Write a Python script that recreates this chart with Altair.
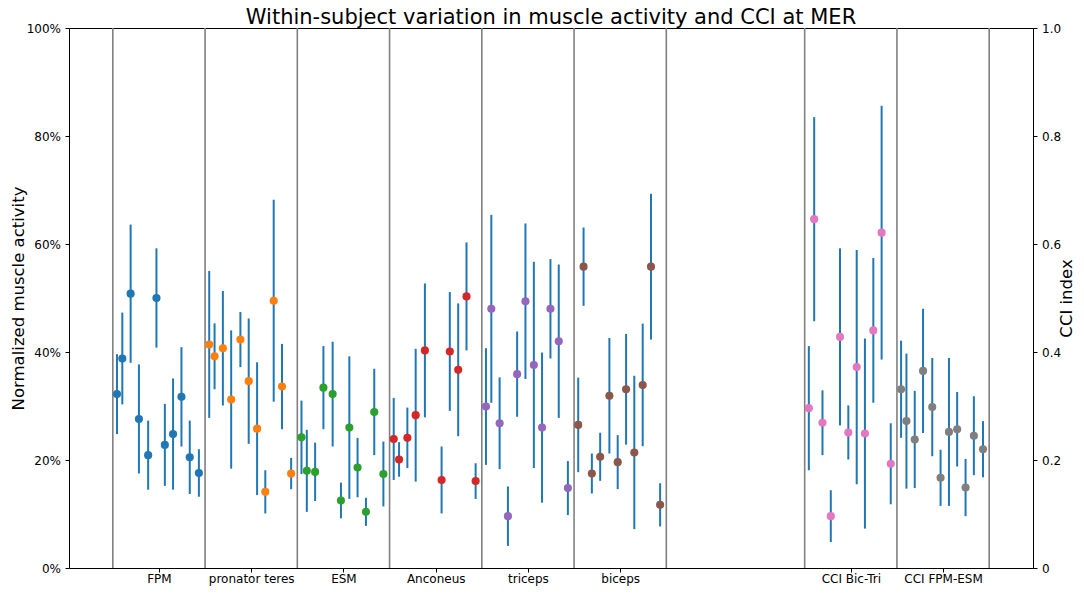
import altair as alt
import pandas as pd

# ---------------- data ----------------
GROUPS = ["FPM", "pronator teres", "ESM", "Anconeus", "triceps", "biceps",
          "CCI Bic-Tri", "CCI FPM-ESM"]
CENTERS = [0, 1, 2, 3, 4, 5, 7.5, 8.5]
COLORS = ["#1f77b4", "#ff7f0e", "#2ca02c", "#d62728", "#9467bd", "#8c564b",
          "#e377c2", "#7f7f7f"]

# normalized muscle activity (%), mean and SD per subject (None = missing)
fpm_mean = [32.2, 38.8, 50.8, 27.6, 20.9, 50.0, 22.8, 24.8, 31.7, 20.5, 17.6]
fpm_sd = [7.4, 8.5, 12.8, 10.1, 6.4, 9.2, 7.6, 10.3, 9.2, 6.8, 4.4]
pt_mean = [41.4, 39.2, 40.7, 31.2, 42.3, 34.6, 25.8, 14.1, 49.5, 33.6, 17.5]
pt_sd = [13.6, 6.1, 10.6, 12.8, 5.1, 11.6, 12.3, 4.0, 18.7, 7.9, 2.9]
esm_mean = [24.2, 18.0, 17.8, 33.4, 32.2, 12.5, 26.0, 18.6, 10.4, 28.9, 17.4]
esm_sd = [6.8, 7.6, 5.4, 7.7, 9.7, 3.3, 13.2, 5.5, 2.6, 8.0, 6.0]
anc_mean = [23.9, 20.1, 24.1, 28.3, 40.3, None, 16.3, 40.1, 36.7, 50.3, 16.1]
anc_sd = [7.6, 3.2, 5.6, 12.3, 12.4, None, 6.2, 11.0, 12.3, 10.0, 3.3]
tri_mean = [29.9, 48.0, 26.8, 9.6, 35.9, 49.4, 37.6, 26.0, 48.0, 42.0, 14.8]
tri_sd = [10.8, 17.4, 8.5, 5.5, 7.9, 14.4, 19.1, 13.9, 9.2, 14.2, 5.0]
bic_mean = [26.5, 55.8, 17.5, 20.6, 31.9, 19.6, 33.1, 21.4, 33.9, 55.8, 11.7]
bic_sd = [8.75, 7.25, 3.7, 4.45, 10.7, 5.0, 10.25, 14.2, 11.35, 13.5, 4.0]

# CCI index, mean and SD per subject
cci_bt_mean = [0.296, 0.646, 0.269, 0.096, 0.428, 0.251, 0.372, 0.249, 0.440, 0.621, 0.193]
cci_bt_sd = [0.115, 0.189, 0.060, 0.048, 0.164, 0.050, 0.217, 0.176, 0.134, 0.235, 0.075]
cci_fe_mean = [0.331, 0.272, 0.238, 0.365, 0.298, 0.167, 0.252, 0.257, 0.149, 0.245, 0.220]
cci_fe_sd = [0.090, 0.125, 0.090, 0.115, 0.091, 0.052, 0.137, 0.069, 0.053, 0.073, 0.052]

# ---------------- layout helpers ----------------
# horizontal dodge of each subject slot inside a group (in group widths)
SLOT_OFFSETS = [-0.455, -0.397, -0.307, -0.217, -0.117, -0.027,
                0.064, 0.153, 0.244, 0.334, 0.433]

muscle_series = [(fpm_mean, fpm_sd), (pt_mean, pt_sd), (esm_mean, esm_sd),
                 (anc_mean, anc_sd), (tri_mean, tri_sd), (bic_mean, bic_sd)]
cci_series = [(cci_bt_mean, cci_bt_sd), (cci_fe_mean, cci_fe_sd)]


def build_rows(series, group_idx):
    rows = []
    for (means, sds), gi in zip(series, group_idx):
        for s, (m, sd) in enumerate(zip(means, sds)):
            if m is None:
                continue
            rows.append({"group": GROUPS[gi],
                         "x": CENTERS[gi] + SLOT_OFFSETS[s],
                         "mean": m, "lo": m - sd, "hi": m + sd})
    return pd.DataFrame(rows)


muscle_df = build_rows(muscle_series, range(6))
cci_df = build_rows(cci_series, [6, 7])

boundaries = sorted({c - 0.5 for c in CENTERS} | {c + 0.5 for c in CENTERS})
bounds_df = pd.DataFrame({"b": boundaries})

label_expr = ""
for c, name in zip(CENTERS, GROUPS):
    label_expr += f"datum.value == {c} ? '{name}' : "
label_expr += "''"

FONT = "DejaVu Sans"

x_scale = alt.Scale(domain=[-0.975, 9.475], nice=False, zero=False)
x_axis = alt.Axis(values=CENTERS, labelExpr=label_expr, title=None, grid=False,
                  domain=False, tickSize=4, labelPadding=1.5, labelFontSize=12,
                  labelFont=FONT, labelColor="black", tickColor="black",
                  labelFlush=False, labelOverlap=False)

color_enc = alt.Color("group:N", scale=alt.Scale(domain=GROUPS, range=COLORS),
                      legend=None)

yl_scale = alt.Scale(domain=[0, 100], nice=False, zero=False)
yl_axis = alt.Axis(orient="left", values=[0, 20, 40, 60, 80, 100],
                   labelExpr="datum.value + '%'", title="Normalized muscle activity",
                   grid=False, domain=False, tickSize=4, labelPadding=4.5,
                   titlePadding=0, titleFontSize=16.5, titleFont=FONT,
                   titleFontWeight="normal", titleColor="black",
                   labelFontSize=12, labelFont=FONT, labelColor="black",
                   tickColor="black", labelFlush=False)

yr_axis = alt.Axis(orient="right", values=[0, 0.2, 0.4, 0.6, 0.8, 1.0],
                   labelExpr="datum.value == 0 ? '0' : format(datum.value, '.1f')",
                   title="CCI index", titleAngle=270, titleBaseline="top",
                   grid=False, domain=False,
                   tickSize=4, labelPadding=4.5, titlePadding=-2, titleFontSize=16.5,
                   titleFont=FONT, titleFontWeight="normal", titleColor="black",
                   labelFontSize=12, labelFont=FONT, labelColor="black",
                   tickColor="black", labelFlush=False)
yr_scale = alt.Scale(domain=[0, 1], nice=False, zero=False)

bounds = alt.Chart(bounds_df).mark_rule(color="#808080", strokeWidth=1.6).encode(
    x=alt.X("b:Q", scale=x_scale, axis=x_axis)
)

muscle_bars = alt.Chart(muscle_df).mark_rule(color="#1f77b4", strokeWidth=2).encode(
    x=alt.X("x:Q", scale=x_scale, axis=x_axis),
    y=alt.Y("lo:Q", scale=yl_scale, axis=yl_axis, title="Normalized muscle activity"),
    y2="hi:Q",
)
muscle_pts = alt.Chart(muscle_df).mark_circle(size=66, opacity=1).encode(
    x=alt.X("x:Q", scale=x_scale, axis=x_axis),
    y=alt.Y("mean:Q", scale=yl_scale, axis=yl_axis, title="Normalized muscle activity"),
    color=color_enc,
)
left = alt.layer(muscle_bars, muscle_pts)

cci_bars = alt.Chart(cci_df).mark_rule(color="#1f77b4", strokeWidth=2).encode(
    x=alt.X("x:Q", scale=x_scale, axis=x_axis),
    y=alt.Y("lo:Q", scale=yr_scale, axis=yr_axis, title="CCI index"),
    y2="hi:Q",
)
cci_pts = alt.Chart(cci_df).mark_circle(size=66, opacity=1).encode(
    x=alt.X("x:Q", scale=x_scale, axis=x_axis),
    y=alt.Y("mean:Q", scale=yr_scale, axis=yr_axis, title="CCI index"),
    color=color_enc,
)
right = alt.layer(cci_bars, cci_pts)

chart = alt.layer(bounds, left, right).resolve_scale(y="independent").properties(
    width=964,
    height=540,
    background="white",
    autosize=alt.AutoSizeParams(type="none"),
    padding={"left": 61, "top": 20, "right": 43, "bottom": 18},
    title=alt.TitleParams(
        text="Within-subject variation in muscle activity and CCI at MER",
        font=FONT, fontSize=21, fontWeight="normal", color="black",
        anchor="middle", frame="group", baseline="bottom", offset=0.5, dy=27,
    ),
).configure_view(stroke="black", strokeWidth=1)

chart.save("out.html", embed_options={"renderer": "svg", "actions": False})
